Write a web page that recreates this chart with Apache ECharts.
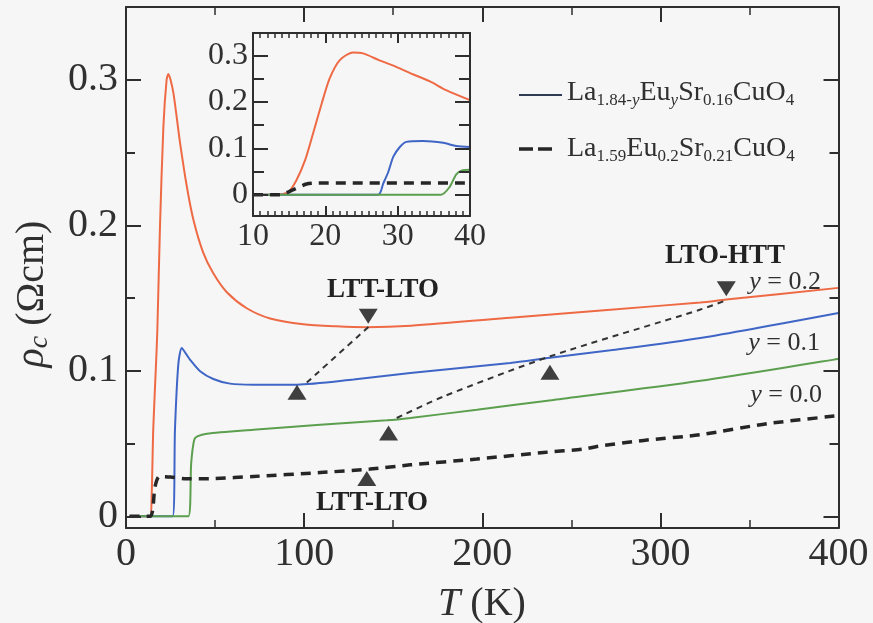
<!DOCTYPE html>
<html><head><meta charset="utf-8">
<script src="https://cdn.jsdelivr.net/npm/echarts@6/dist/echarts.min.js"></script>
<style>html,body{margin:0;padding:0;background:#f6f6f6}#c{width:873px;height:623px}</style>
</head><body><div id="c"></div>
<script>
// ---------- main panel data (T in K, rho_c in Ohm cm) ----------
const redT   = [2, 13.5, 14.4, 15.3, 16.9, 17.6, 19.1, 21, 22.8, 23.8, 25, 26.6, 28.5, 30.3, 34.1, 37.8, 43.4, 49, 56.6, 67.8, 80.9, 99.6, 118, 135, 160, 215.7, 272, 322.5, 337, 400];
const redRho = [0, 0, 0.014, 0.06, 0.106, 0.128, 0.2, 0.268, 0.3, 0.304, 0.3, 0.291, 0.274, 0.257, 0.227, 0.204, 0.181, 0.167, 0.154, 0.143, 0.136, 0.132, 0.1306, 0.130, 0.131, 0.1364, 0.142, 0.147, 0.149, 0.157];
const blueT   = [2, 26.2, 27.5, 29.4, 31.3, 33.5, 35.9, 41.6, 49, 58.4, 71.5, 95.9, 127.7, 159.6, 215.7, 238, 272, 322.5, 400];
const blueRho = [0, 0, 0.06, 0.105, 0.1157, 0.112, 0.1077, 0.0997, 0.0944, 0.0912, 0.0905, 0.0905, 0.094, 0.0985, 0.1054, 0.109, 0.1141, 0.1226, 0.1398];
const greenT   = [2, 35, 36.6, 38.3, 40, 45.3, 71.5, 109, 146.5, 159.6, 197, 240, 322.5, 400];
const greenRho = [0, 0, 0.0366, 0.0527, 0.0549, 0.0568, 0.0595, 0.063, 0.066, 0.0676, 0.0733, 0.080, 0.0932, 0.1082];
const blackT   = [2, 13.5, 16.3, 18.7, 25, 34, 50, 71.5, 109, 137, 159.6, 197, 234.5, 257, 264.4, 290.6, 322.5, 360, 400];
const blackRho = [0, 0, 0.0205, 0.0274, 0.027, 0.0258, 0.026, 0.0274, 0.0301, 0.0325, 0.0354, 0.0394, 0.0439, 0.0462, 0.048, 0.0522, 0.0561, 0.0637, 0.0692];

// transition markers
const downT   = [136, 337];
const downRho = [0.1375, 0.1564];
const upT   = [96, 147.4, 238, 135.2];
const upRho = [0.0852, 0.0573, 0.099, 0.026];
// guide lines joining transitions
const guide1T   = [101.5, 136.5];
const guide1Rho = [0.0919, 0.1306];
const guide2T   = [152, 178.3, 238.2, 322.5, 338];
const guide2Rho = [0.0676, 0.0824, 0.110, 0.1421, 0.149];

// ---------- inset data ----------
const inRedT   = [10, 13, 14.9, 16, 17.2, 18.3, 19.5, 20.6, 22, 23.8, 25.2, 27.5, 29.8, 32.1, 34.4, 36.7, 40];
const inRedRho = [0, 0, 0.006, 0.031, 0.0745, 0.132, 0.197, 0.251, 0.2905, 0.307, 0.305, 0.29, 0.276, 0.26, 0.245, 0.2257, 0.204];
const inBlueT   = [10, 27.3, 28, 28.7, 29.4, 30.3, 31.2, 33.5, 36.3, 38.1, 40];
const inBlueRho = [0, 0, 0.024, 0.049, 0.082, 0.103, 0.114, 0.116, 0.112, 0.105, 0.103];
const inGreenT   = [10, 36, 37.2, 38.1, 39, 40];
const inGreenRho = [0, 0, 0.017, 0.044, 0.053, 0.054];
const inBlackT   = [10, 13.7, 15.6, 17.4, 19, 40];
const inBlackRho = [0, 0, 0.011, 0.023, 0.025, 0.025];

// tick values
const mainYMajor = [0, 0.1, 0.2, 0.3];
const mainYMinor = [0.05, 0.15, 0.25];
const inYMajor = [0, 0.1, 0.2, 0.3];
const inYMinor = [0.05, 0.15, 0.25];

const pairs = (xs, ys) => xs.map((x, i) => [x, ys[i]]);
const FONT = "'Liberation Serif', 'Times New Roman', serif";
const AX = '#2e2e2e';
const TXT = '#303030';
const RED = '#ee6a45', BLUE = '#3f66c6', GREEN = '#5c9f4f', BLK = '#262626';
const fmt = v => String(Math.round(v * 10) / 10);

function xAx(grid, pos, min, max, interval, minorSplit, tickLen, minorLen, labels, fs, margin) {
  return {
    type: 'value', gridIndex: grid, position: pos, min, max, interval, z: 10,
    axisLine: {show: true, onZero: false, lineStyle: {color: AX, width: 2}},
    axisTick: {show: true, inside: true, length: tickLen, lineStyle: {color: AX, width: 2}},
    minorTick: {show: true, splitNumber: minorSplit, length: minorLen, lineStyle: {color: AX, width: 1.5}},
    axisLabel: {show: labels, fontFamily: FONT, fontSize: fs, color: TXT, margin},
    splitLine: {show: false}, minorSplitLine: {show: false}
  };
}
function yAx(grid, pos, min, max, ticks, tickLen, showLine, labels, fs, margin) {
  return {
    type: 'value', gridIndex: grid, position: pos, min, max, z: 10,
    axisLine: {show: showLine, onZero: false, lineStyle: {color: AX, width: 2}},
    axisTick: {show: true, inside: true, length: tickLen, customValues: ticks, lineStyle: {color: AX, width: 2}},
    axisLabel: {show: labels, customValues: ticks, formatter: fmt, fontFamily: FONT, fontSize: fs, color: TXT, margin},
    splitLine: {show: false}
  };
}

const MY0 = -0.008, MY1 = 0.35;
const IY0 = -0.046, IY1 = 0.349;

function line(name, xs, ys, color, width, dash, xi, yi, z) {
  return {
    name, type: 'line', data: pairs(xs, ys), xAxisIndex: xi, yAxisIndex: yi,
    showSymbol: false, symbol: 'none', smooth: 0.25, z: z || 3,
    lineStyle: {color, width, type: dash || 'solid', cap: 'butt'},
    emphasis: {disabled: true}
  };
}

const option = {
  backgroundColor: '#f6f6f6',
  animation: false,
  grid: [
    {left: 126, top: 7, width: 712.5, height: 521, show: false},
    {left: 253, top: 33, width: 217, height: 183, show: false}
  ],
  xAxis: [
    xAx(0, 'bottom', 0, 400, 100, 2, 15, 8, true, 40, 6),
    xAx(0, 'top', 0, 400, 100, 2, 15, 8, false, 40, 6),
    xAx(1, 'bottom', 10, 40, 10, 10, 10, 5, true, 32, 5),
    xAx(1, 'top', 10, 40, 10, 10, 10, 5, false, 32, 5)
  ],
  yAxis: [
    yAx(0, 'left', MY0, MY1, mainYMajor, 15, true, true, 40, 8),
    yAx(0, 'left', MY0, MY1, mainYMinor, 9, false, false, 40, 8),
    yAx(0, 'right', MY0, MY1, mainYMajor, 15, true, false, 40, 8),
    yAx(0, 'right', MY0, MY1, mainYMinor, 9, false, false, 40, 8),
    yAx(1, 'left', IY0, IY1, inYMajor, 15, true, true, 32, 5),
    yAx(1, 'left', IY0, IY1, inYMinor, 11, false, false, 32, 5),
    yAx(1, 'right', IY0, IY1, inYMajor, 15, true, false, 32, 5),
    yAx(1, 'right', IY0, IY1, inYMinor, 11, false, false, 32, 5)
  ],
  series: [
    line('red', redT, redRho, RED, 2, null, 0, 0),
    line('blue', blueT, blueRho, BLUE, 2, null, 0, 0),
    line('green', greenT, greenRho, GREEN, 2, null, 0, 0),
    line('black', blackT, blackRho, BLK, 3.5, [10, 7], 0, 0),
    line('guide1', guide1T, guide1Rho, '#333', 2, [6, 5], 0, 0),
    line('guide2', guide2T, guide2Rho, '#333', 2, [6, 5], 0, 0),
    {type: 'scatter', data: pairs(upT, upRho), xAxisIndex: 0, yAxisIndex: 0, symbol: 'triangle', symbolSize: [19, 15],
     itemStyle: {color: '#111'}, z: 6, emphasis: {disabled: true}},
    {type: 'scatter', data: pairs(downT, downRho), xAxisIndex: 0, yAxisIndex: 0, symbol: 'triangle', symbolRotate: 180, symbolSize: [19, 15],
     itemStyle: {color: '#111'}, z: 6, emphasis: {disabled: true}},
    line('inRed', inRedT, inRedRho, RED, 2, null, 2, 4, 8),
    line('inBlue', inBlueT, inBlueRho, BLUE, 2, null, 2, 4, 8),
    line('inGreen', inGreenT, inGreenRho, GREEN, 2, null, 2, 4, 8),
    line('inBlack', inBlackT, inBlackRho, BLK, 3.5, [10, 7], 2, 4, 8)
  ],
  graphic: [
    // legend
    {type: 'line', shape: {x1: 519, y1: 95, x2: 562, y2: 95}, style: {stroke: '#2f3b55', lineWidth: 2}},
    {type: 'line', shape: {x1: 519, y1: 149, x2: 552, y2: 149}, style: {stroke: BLK, lineWidth: 3.5, lineDash: [14, 5]}},
    {type: 'text', x: 567, y: 93, style: {
      text: '{m|La}{s|1.84-}{si|y}{m|Eu}{si|y}{m|Sr}{s|0.16}{m|CuO}{s|4}', verticalAlign: 'middle', fill: TXT,
      rich: {m: {fontFamily: FONT, fontSize: 28, fill: TXT},
             s: {fontFamily: FONT, fontSize: 17, fill: TXT, padding: [15, 0, 0, 0]},
             si: {fontFamily: FONT, fontSize: 17, fontStyle: 'italic', fill: TXT, padding: [15, 0, 0, 0]}}}},
    {type: 'text', x: 567, y: 149, style: {
      text: '{m|La}{s|1.59}{m|Eu}{s|0.2}{m|Sr}{s|0.21}{m|CuO}{s|4}', verticalAlign: 'middle', fill: TXT,
      rich: {m: {fontFamily: FONT, fontSize: 28, fill: TXT},
             s: {fontFamily: FONT, fontSize: 17, fill: TXT, padding: [15, 0, 0, 0]}}}},
    // annotations
    {type: 'text', x: 383, y: 290, style: {text: 'LTT-LTO', fontFamily: FONT, fontWeight: 'bold', fontSize: 27, fill: '#222', align: 'center', verticalAlign: 'middle'}},
    {type: 'text', x: 725, y: 256, style: {text: 'LTO-HTT', fontFamily: FONT, fontWeight: 'bold', fontSize: 27, fill: '#222', align: 'center', verticalAlign: 'middle'}},
    {type: 'text', x: 372, y: 503, style: {text: 'LTT-LTO', fontFamily: FONT, fontWeight: 'bold', fontSize: 27, fill: '#222', align: 'center', verticalAlign: 'middle'}},
    {type: 'text', x: 821, y: 282, style: {text: '{i|y} = 0.2', align: 'right', verticalAlign: 'middle', fontFamily: FONT, fontSize: 26, fill: TXT, rich: {i: {fontFamily: FONT, fontSize: 26, fontStyle: 'italic', fill: TXT}}}},
    {type: 'text', x: 820, y: 343, style: {text: '{i|y} = 0.1', align: 'right', verticalAlign: 'middle', fontFamily: FONT, fontSize: 26, fill: TXT, rich: {i: {fontFamily: FONT, fontSize: 26, fontStyle: 'italic', fill: TXT}}}},
    {type: 'text', x: 822, y: 395, style: {text: '{i|y} = 0.0', align: 'right', verticalAlign: 'middle', fontFamily: FONT, fontSize: 26, fill: TXT, rich: {i: {fontFamily: FONT, fontSize: 26, fontStyle: 'italic', fill: TXT}}}},
    // axis titles
    {type: 'text', x: 482, y: 604, style: {text: '{i|T} (K)', align: 'center', verticalAlign: 'middle', fontFamily: FONT, fontSize: 40, fill: TXT, rich: {i: {fontFamily: FONT, fontSize: 40, fontStyle: 'italic', fill: TXT}}}},
    {type: 'text', x: 32, y: 294, rotation: Math.PI / 2, style: {text: '{i|ρ}{s|c} (Ωcm)', align: 'center', verticalAlign: 'middle', fontFamily: FONT, fontSize: 40, fill: TXT,
      rich: {i: {fontFamily: FONT, fontSize: 40, fontStyle: 'italic', fill: TXT}, s: {fontFamily: FONT, fontSize: 28, fontStyle: 'italic', fill: TXT, padding: [16, 0, 0, 0]}}}}
  ]
};
const chart = echarts.init(document.getElementById('c'), null, {renderer: 'canvas'});
chart.setOption(option);
</script></body></html>
